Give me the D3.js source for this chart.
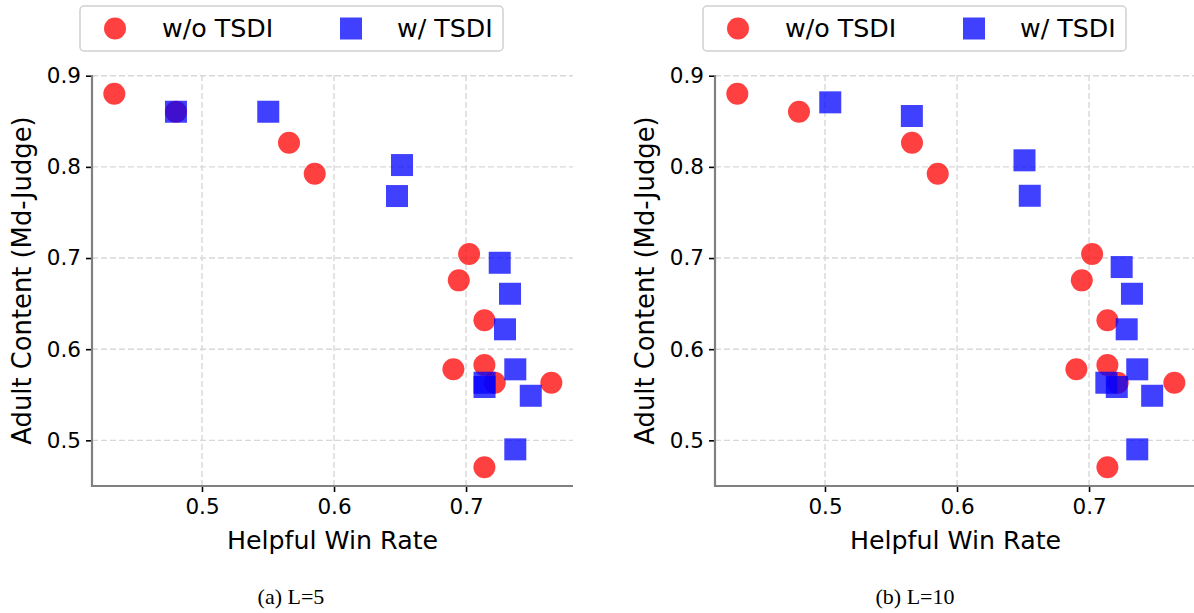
<!DOCTYPE html>
<html>
<head>
<meta charset="utf-8">
<script src="https://cdn.jsdelivr.net/npm/d3@7"></script>
<style>
  html, body { margin: 0; padding: 0; background: #fff; overflow: hidden; }
  svg { display: block; }
</style>
</head>
<body>
<svg id="chart" width="1194" height="613"></svg>
<script>
// ---- Data ----
const seriesNames = ["w/o TSDI", "w/ TSDI"];
const panelCaptions = ["(a) L=5", "(b) L=10"];
const xTicks = [0.5, 0.6, 0.7];
const yTicks = [0.5, 0.6, 0.7, 0.8, 0.9];
const xLabel = "Helpful Win Rate";
const yLabel = "Adult Content (Md-Judge)";

// w/o TSDI (same in both panels)
const woX = [0.4336, 0.4803, 0.5659, 0.5854, 0.7023, 0.6945, 0.7139, 0.7139, 0.6904, 0.7217, 0.7646, 0.7139];
const woY = [0.8803, 0.8605, 0.8265, 0.7925, 0.7044, 0.6755, 0.6317, 0.5826, 0.5779, 0.5632, 0.5632, 0.4704];

// w/ TSDI, L=5
const w5X = [0.4803, 0.5502, 0.6515, 0.6477, 0.7255, 0.7333, 0.7295, 0.7373, 0.7140, 0.7140, 0.7490, 0.7373];
const w5Y = [0.8605, 0.8605, 0.8020, 0.7680, 0.6948, 0.6608, 0.6218, 0.5779, 0.5632, 0.5585, 0.5489, 0.4901];

// w/ TSDI, L=10
const w10X = [0.5040, 0.5658, 0.6511, 0.6551, 0.7247, 0.7325, 0.7285, 0.7365, 0.7131, 0.7210, 0.7478, 0.7365];
const w10Y = [0.8708, 0.8558, 0.8072, 0.7683, 0.6901, 0.6608, 0.6218, 0.5779, 0.5632, 0.5585, 0.5489, 0.4901];

const panels = [
  { caption: panelCaptions[0], wo: [woX, woY], w: [w5X, w5Y] },
  { caption: panelCaptions[1], wo: [woX, woY], w: [w10X, w10Y] }
];

// ---- Drawing ----
const svg = d3.select("#chart");
const RED = "rgba(255,0,0,0.75)";
const BLUE = "rgba(0,0,255,0.75)";
const sans = "'DejaVu Sans', sans-serif";
const xDomain = [0.4167, 0.781];
const yDomain = [0.4499, 0.9008];
const offsets = [0, 623];
const R = 11, S = 22;

panels.forEach((p, i) => {
  const dx = offsets[i];
  const left = 92 + dx, right = 573 + dx, top = 75, bottom = 486;
  const x = d3.scaleLinear().domain(xDomain).range([left, right]);
  const y = d3.scaleLinear().domain(yDomain).range([bottom, top]);
  const g = svg.append("g");

  // grid
  g.selectAll(".gx").data(xTicks).enter().append("line")
    .attr("x1", d => x(d)).attr("x2", d => x(d))
    .attr("y1", top).attr("y2", bottom)
    .attr("stroke", "#d8d8d8").attr("stroke-width", 1.4).attr("stroke-dasharray", "6,3");
  g.selectAll(".gy").data(yTicks).enter().append("line")
    .attr("x1", left).attr("x2", right)
    .attr("y1", d => y(d)).attr("y2", d => y(d))
    .attr("stroke", "#d8d8d8").attr("stroke-width", 1.4).attr("stroke-dasharray", "6,3");

  // axes
  const xAxis = d3.axisBottom(x).tickValues(xTicks).tickFormat(d3.format(".1f")).tickSize(6).tickPadding(7);
  const yAxis = d3.axisLeft(y).tickValues(yTicks).tickFormat(d3.format(".1f")).tickSize(6).tickPadding(5);
  const gx = g.append("g").attr("transform", `translate(0,${bottom})`).call(xAxis);
  const gy = g.append("g").attr("transform", `translate(${left},0)`).call(yAxis);
  [gx, gy].forEach(a => {
    a.select(".domain").remove();
    a.selectAll(".tick line").attr("stroke", "#000").attr("stroke-width", 1.6);
    a.selectAll(".tick text").attr("font-family", sans).attr("font-size", 21.5).attr("fill", "#000");
  });
  // spines
  g.append("line").attr("x1", left).attr("x2", left).attr("y1", top).attr("y2", bottom + 1)
    .attr("stroke", "#808080").attr("stroke-width", 2.2);
  g.append("line").attr("x1", left - 1).attr("x2", right).attr("y1", bottom).attr("y2", bottom)
    .attr("stroke", "#808080").attr("stroke-width", 2.2);

  // points: red first, blue on top
  const woData = p.wo[0].map((v, k) => [v, p.wo[1][k]]);
  const wData = p.w[0].map((v, k) => [v, p.w[1][k]]);
  g.selectAll(".wo").data(woData).enter().append("circle")
    .attr("cx", d => x(d[0])).attr("cy", d => y(d[1])).attr("r", R).attr("fill", RED);
  g.selectAll(".w").data(wData).enter().append("rect")
    .attr("x", d => x(d[0]) - S / 2).attr("y", d => y(d[1]) - S / 2)
    .attr("width", S).attr("height", S).attr("fill", BLUE);

  // labels
  g.append("text").attr("x", (left + right) / 2).attr("y", 549)
    .attr("text-anchor", "middle").attr("font-family", sans).attr("font-size", 25.3).text(xLabel);
  g.append("text").attr("transform", `translate(${31 + dx},${(top + bottom) / 2}) rotate(-90)`)
    .attr("text-anchor", "middle").attr("font-family", sans).attr("font-size", 25.8).text(yLabel);

  // caption
  g.append("text").attr("x", 291 + dx * 1.0016).attr("y", 604)
    .attr("text-anchor", "middle").attr("font-family", "'Liberation Serif', 'Times New Roman', serif")
    .attr("font-size", 22).text(p.caption);

  // legend
  const lg = g.append("g").attr("transform", `translate(${80 + dx},6)`);
  lg.append("rect").attr("x", 0).attr("y", 0).attr("width", 423).attr("height", 45)
    .attr("rx", 4).attr("fill", "#fff").attr("stroke", "#d0d0d0").attr("stroke-width", 1.5);
  lg.append("circle").attr("cx", 35).attr("cy", 22.5).attr("r", R).attr("fill", RED);
  lg.append("text").attr("x", 82).attr("y", 31).attr("font-family", sans).attr("font-size", 25.3).text(seriesNames[0]);
  lg.append("rect").attr("x", 271 - S / 2).attr("y", 22.5 - S / 2).attr("width", S).attr("height", S).attr("fill", BLUE);
  lg.append("text").attr("x", 317).attr("y", 31).attr("font-family", sans).attr("font-size", 25.3).text(seriesNames[1]);
});
</script>
</body>
</html>
